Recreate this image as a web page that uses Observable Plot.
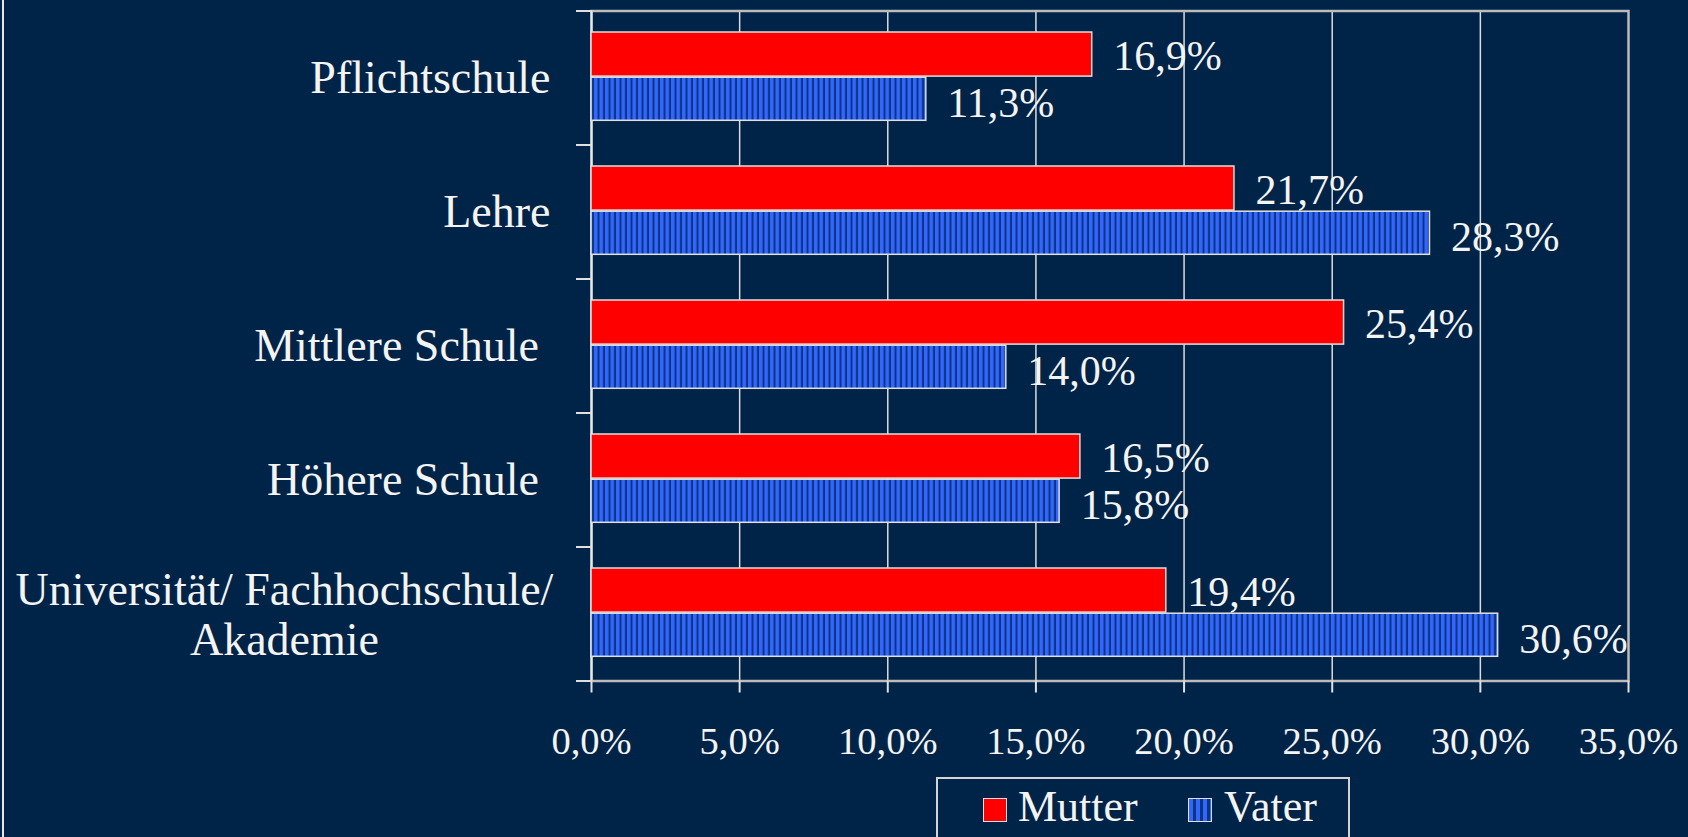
<!DOCTYPE html>
<html>
<head>
<meta charset="utf-8">
<script src="https://cdn.jsdelivr.net/npm/d3@7"></script>
<script src="https://cdn.jsdelivr.net/npm/@observablehq/plot@0.6"></script>
<style>
  html, body { margin: 0; padding: 0; background: #002348; }
  body { width: 1688px; height: 837px; overflow: hidden; position: relative; font-family: "Liberation Serif", "Times New Roman", serif; }
  #edge { position: absolute; left: 2px; top: 0; width: 2px; height: 837px; background: #e6e6e6; }
  #chart { position: absolute; left: 0; top: 0; }
  #legend { position: absolute; left: 936px; top: 777px; width: 414px; height: 80px; border: 2px solid #d4d4d4; box-sizing: border-box; color: #f4f4f4; }
  .sw { position: absolute; top: 19px; width: 22px; height: 22px; border: 1.5px solid #e0e0e0; }
  .lt { position: absolute; top: 2px; font-size: 44px; line-height: 52px; white-space: nowrap; }
</style>
</head>
<body>
<div id="edge"></div>
<div id="chart"></div>
<div id="legend"></div>
<script>
// ---- data ----
const categories = ["Pflichtschule", "Lehre", "Mittlere Schule", "Höhere Schule", "Universität/ Fachhochschule/ Akademie"];
const categoryLabels = ["Pflichtschule", "Lehre", "Mittlere Schule ", "Höhere Schule ", "Universität/ Fachhochschule/\nAkademie"];
const series = ["Mutter", "Vater"];
const mutter = [16.9, 21.7, 25.4, 16.5, 19.4];
const vater = [11.3, 28.3, 14.0, 15.8, 30.6];
const xTicks = [0, 5, 10, 15, 20, 25, 30, 35];

const fmt = v => v.toFixed(1).replace(".", ",") + "%";
const mutterRows = categories.map((c, i) => ({category: c, series: "Mutter", value: mutter[i]}));
const vaterRows = categories.map((c, i) => ({category: c, series: "Vater", value: vater[i]}));
const idx = d3.range(categories.length);
const single = idx.filter(i => !categoryLabels[i].includes("\n"));
const multi = idx.filter(i => categoryLabels[i].includes("\n"));

const H = 777, mt = 10.5, mb = 96.5;
const bw = (H - mt - mb) / categories.length;

const defs = () => {
  const svgDefs = d3.create("svg:defs");
  const p = svgDefs.append("pattern").attr("id", "vstripes").attr("patternUnits", "userSpaceOnUse")
    .attr("width", 5.5).attr("height", 10);
  p.append("rect").attr("width", 5.5).attr("height", 10).attr("fill", "#3366ff");
  p.append("rect").attr("x", 3.5).attr("width", 2).attr("height", 10).attr("fill", "#0c3580");
  return svgDefs.node();
};

const chart = Plot.plot({
  width: 1688,
  height: H,
  marginLeft: 591,
  marginRight: 60,
  marginTop: mt,
  marginBottom: mb,
  style: {background: "transparent", color: "#f4f4f4", fontFamily: "'Liberation Serif', 'Times New Roman', serif", whiteSpace: "pre"},
  x: {domain: [0, 35], label: null},
  y: {domain: categories, paddingInner: 0, paddingOuter: 0, round: false, label: null},
  marks: [
    defs,
    Plot.ruleX(xTicks.slice(1, -1), {stroke: "#dcdcdc", strokeWidth: 1.5}),
    Plot.frame({stroke: "#bcbcbc", strokeWidth: 2.5}),
    Plot.ruleX([0], {stroke: "#e8e8e8", strokeWidth: 2}),
    Plot.barX(mutterRows, {x: "value", y: "category", fill: "#ff0000", stroke: "#e0e0e0", strokeWidth: 1.5, insetTop: 21.5, insetBottom: bw - 65.6}),
    Plot.barX(vaterRows, {x: "value", y: "category", fill: "url(#vstripes)", stroke: "#e0e0e0", strokeWidth: 1.5, insetTop: 66.7, insetBottom: bw - 109.8}),
    Plot.text(mutterRows, {x: "value", y: "category", text: d => fmt(d.value), dx: 21, dy: -21.5, textAnchor: "start", fill: "#f4f4f4", fontSize: 42}),
    Plot.text(vaterRows, {x: "value", y: "category", text: d => fmt(d.value), dx: 21, dy: 26, textAnchor: "start", fill: "#f4f4f4", fontSize: 42}),
    Plot.axisX({ticks: xTicks, tickFormat: fmt, tickSize: 12, tickPadding: 34, fontSize: 38.5, stroke: "#e0e0e0", strokeWidth: 2, fill: "#f4f4f4"}),
    Plot.axisY({ticks: categories, tickSize: 15, dy: -bw / 2, stroke: "#e0e0e0", strokeWidth: 2, fill: "none"}),
    Plot.axisY({ticks: categories.slice(-1), tickSize: 15, dy: bw / 2, stroke: "#e0e0e0", strokeWidth: 2, fill: "none"}),
    Plot.text(single, {x: 0, y: i => categories[i], text: i => categoryLabels[i], dx: -41, textAnchor: "end", fill: "#f4f4f4", fontSize: 46}),
    Plot.text(multi, {x: 0, y: i => categories[i], text: i => categoryLabels[i], dx: -307, textAnchor: "middle", fill: "#f4f4f4", fontSize: 46, lineHeight: 1.1})
  ]
});
document.getElementById("chart").appendChild(chart);

// legend (HTML, below the svg)
const legend = d3.select("#legend");
const legendItems = [
  {name: series[0], sw: 45, tx: 80, bg: "#ff0000"},
  {name: series[1], sw: 250, tx: 286, bg: "repeating-linear-gradient(90deg, #3366ff 0 4px, #0c3580 4px 7px)"}
];
legendItems.forEach(it => {
  legend.append("div").attr("class", "sw").style("left", it.sw + "px").style("background", it.bg);
  legend.append("div").attr("class", "lt").style("left", it.tx + "px").text(it.name);
});
</script>
</body>
</html>
